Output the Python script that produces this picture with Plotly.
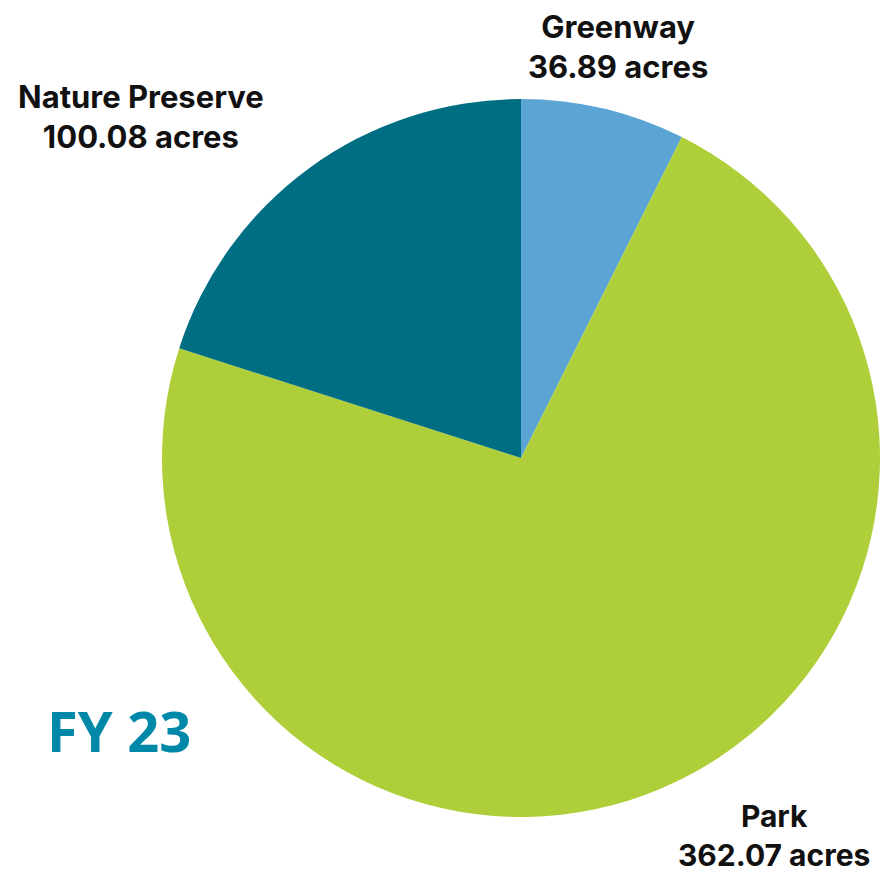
import plotly.graph_objects as go

categories = ["Greenway", "Park", "Nature Preserve"]
acres = [36.89, 362.07, 100.08]
colors = ["#5BA5D5", "#AFCF3A", "#006E82"]
title_text = "FY 23"

# page body has an 8px margin; size the figure so the page does not scroll
W, H = 872, 866
OFF = 8

def px(x):
    return (x - OFF) / W

def py(y):
    return 1 - (y - OFF) / H

cx, cy, r = 521, 458, 359

fig = go.Figure(go.Pie(
    labels=categories,
    values=acres,
    sort=False,
    direction="clockwise",
    rotation=0,
    marker=dict(colors=colors, line=dict(width=0)),
    textinfo="none",
    hoverinfo="label+value",
    domain=dict(x=[px(cx - r), px(cx + r)], y=[py(cy + r), py(cy - r)]),
    showlegend=False,
))

label_pos = {
    "Greenway": (618, 47),
    "Nature Preserve": (141, 117),
    "Park": (774, 835),
}
label_size = {"Greenway": 31, "Nature Preserve": 31, "Park": 30}
for cat, val in zip(categories, acres):
    x, y = label_pos[cat]
    fig.add_annotation(
        x=px(x), y=py(y), xref="paper", yref="paper",
        text=f"<b>{cat}</b><br><b>{val:.2f} acres</b>",
        showarrow=False, align="center", xanchor="center", yanchor="middle",
        font=dict(family="Inter", size=label_size[cat], color="#111111"),
    )

fig.add_annotation(
    x=px(45), y=py(730), xref="paper", yref="paper",
    text=f"<b>{title_text}</b>", showarrow=False,
    xanchor="left", yanchor="middle",
    font=dict(family="Open Sans", size=56, color="#0088A8"),
)

fig.update_layout(
    width=W, height=H,
    margin=dict(l=0, r=0, t=0, b=0),
    paper_bgcolor="white", plot_bgcolor="white",
)

fig.write_html("out.html")
